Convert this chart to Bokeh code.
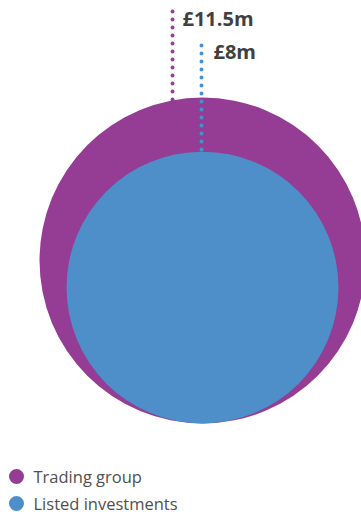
import math
from bokeh.plotting import figure
from bokeh.models import Range1d
from bokeh.core.properties import value
from bokeh.embed import file_html
from bokeh.resources import INLINE

# ---- data ----
categories = ["Trading group", "Listed investments"]
amounts = [11.5, 8.0]          # £m
amount_labels = ["£11.5m", "£8m"]
colors = ["#953D95", "#4E8FCA"]

# ---- layout (pixels) ----
W, H = 361, 514
scale = 163 / math.sqrt(11.5)   # px per sqrt(£m)
base_y = 423                    # common bottom of both circles
cx = 202

radii = [scale * math.sqrt(a) for a in amounts]
cys = [base_y - r for r in radii]
tops = [cy - r for cy, r in zip(cys, radii)]

p = figure(width=W, height=H, output_backend="svg", toolbar_location=None,
           x_range=Range1d(0, W), y_range=Range1d(H, 0),
           x_axis_location=None, y_axis_location=None, min_border=0)
p.grid.visible = False
p.outline_line_color = None
p.background_fill_color = "white"

# circles (largest first)
p.circle(x=[cx, cx], y=cys, radius=radii, fill_color=colors, line_color=None)

# dotted leader lines + labels
line_x = [cx - 30, cx - 1]
line_top = [11, 45]
label_x = [cx - 20, cx + 11]
label_y = [18, 51]
for i in range(len(amounts)):
    p.line(x=[line_x[i], line_x[i]], y=[line_top[i], tops[i] + 3],
           line_color=colors[i], line_width=4, line_dash="0 8", line_cap="round")
p.text(x=label_x, y=label_y, text=amount_labels, text_font=value("Open Sans"),
       text_font_style="bold", text_font_size="20px", text_color="#404040",
       text_baseline="middle", text_align="left")

# legend
leg_y = [476, 503]
p.scatter(x=[16, 16], y=leg_y, size=15, marker="circle", fill_color=colors, line_color=None)
p.text(x=[33, 33], y=leg_y, text=categories, text_font=value("Open Sans"),
       text_font_size="16.5px", text_color="#505050", text_baseline="middle",
       text_align="left")

open("out.html", "w").write(file_html(p, INLINE))
